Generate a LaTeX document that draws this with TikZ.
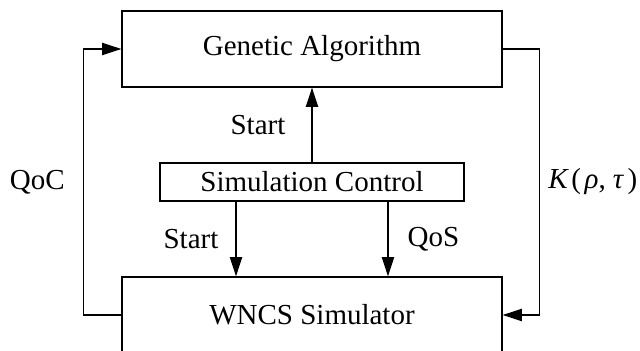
\documentclass[tikz,border=0pt]{standalone}
\usepackage{fontspec}
\setmainfont{Liberation Serif}
\usepackage{tikz}
\usetikzlibrary{arrows.meta,positioning}

\tikzset{
    block/.style = {draw, line width=0.75pt, minimum width=7.6cm, minimum height=1.52cm, inner sep=0pt},
    arr/.style = {line width=0.75pt, -{Triangle[length=11pt,width=7pt]}},
    lbl/.style = {inner sep=0pt}
}

\begin{document}
\begin{tikzpicture}[x=0.02cm, y=-0.02cm, font=\fontsize{16.5}{19.8}\selectfont]
        \useasboundingbox (0,0) rectangle (640,351);
        % boxes
        \node[block] (ga) at (312,49) {Genetic Algorithm};
        \node[block, minimum width=6.08cm, minimum height=0.76cm] (ctrl) at (312,182) {Simulation Control};
        \node[block] (wncs) at (312,315) {WNCS Simulator};
        \coordinate (cl) at ([xshift=-1.52cm]ctrl.south);
        \coordinate (cr) at ([xshift=1.52cm]ctrl.south);
        % control arrows
        \draw[arr] (ctrl.north) -- node[lbl, left=0.52cm] {Start} (ga.south);
        \draw[arr] (cl) -- node[lbl, left=0.34cm] {Start} (cl |- wncs.north);
        \draw[arr] (cr) -- node[lbl, right=0.38cm] {QoS} (cr |- wncs.north);
        % feedback loops
        \draw[arr] (ga.east) -- ++(37,0) |- node[lbl, pos=0.25, right=0.16cm] {\textit{K}\kern1.5pt(\kern2pt\textit{ρ},\kern4pt\textit{τ}\kern2pt)} (wncs.east);
        \draw[arr] (wncs.west) -- ++(-38,0) |- node[lbl, pos=0.25, left=0.36cm] {QoC} (ga.west);
    \end{tikzpicture}
\end{document}
